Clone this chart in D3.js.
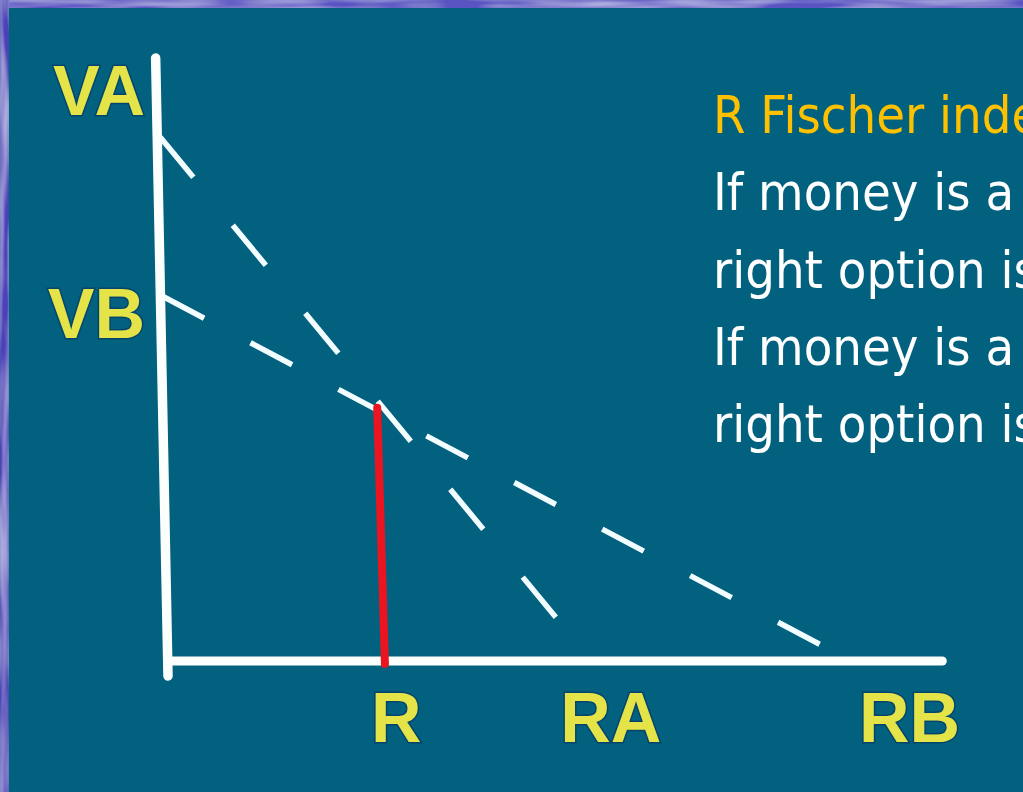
<!DOCTYPE html>
<html>
<head>
<meta charset="utf-8">
<script src="https://cdn.jsdelivr.net/npm/d3@7/dist/d3.min.js"></script>
<style>
  html, body { margin: 0; padding: 0; background: #01617f; overflow: hidden; }
  svg { display: block; }
</style>
</head>
<body>
<svg id="chart" width="1023" height="792"></svg>
<script>
// Hand-drawn frame: axis strokes in data units (x: 0..10, y: 0..10)
const xAxisStroke = [[0, 0], [10.03, 0]];
const yAxisStroke = [[-0.16, 10.05], [0, -0.25]];

// Two dashed valuation lines: project A (steep) and project B (shallow)
const lineA = [[-0.10, 8.73], [5.49, 0]];
const lineB = [[-0.07, 6.08], [8.85, 0]];

// Red marker dropped from the crossing to the rate axis
const fisherDrop = [[2.71, 4.22], [2.81, -0.05]];

// Axis tick labels
const xTickLabels = ["R", "RA", "RB"];
const xTickValues = [2.95, 5.73, 9.6];
const yTickLabels = ["VA", "VB"];
const yTickValues = [9.49, 5.77];

// Side notes
const noteLines = [
  "R Fischer index",
  "If money is a",
  "right option is",
  "If money is a",
  "right option is"
];

const svg = d3.select("#chart");
const W = 1023, H = 792;

const x = d3.scaleLinear().domain([0, 10]).range([168, 940]);
const y = d3.scaleLinear().domain([0, 10]).range([661, 61]);

// ---- slide background with mottled frame ----
const defs = svg.append("defs");
function mottle(id, freq, seed) {
  const f = defs.append("filter").attr("id", id)
    .attr("x", 0).attr("y", 0).attr("width", "100%").attr("height", "100%");
  f.append("feTurbulence").attr("type", "fractalNoise")
    .attr("baseFrequency", freq).attr("numOctaves", 2).attr("seed", seed).attr("result", "n");
  f.append("feColorMatrix").attr("in", "n").attr("type", "matrix")
    .attr("values", "0 0 0 0 0.6  0 0 0 0 0.6  0 0 0 0 0.86  1.3 0 0 0 -0.45")
    .attr("result", "c");
  f.append("feComposite").attr("in", "c").attr("in2", "SourceGraphic").attr("operator", "in").attr("result", "m");
  f.append("feMerge").call(m => {
    m.append("feMergeNode").attr("in", "SourceGraphic");
    m.append("feMergeNode").attr("in", "m");
  });
}
mottle("mottleH", "0.012 0.12", 7);
mottle("mottleV", "0.12 0.012", 3);

svg.append("rect").attr("width", W).attr("height", H).attr("fill", "#5750c0");
svg.append("rect").attr("width", W).attr("height", 8).attr("fill", "#5a52c2").attr("filter", "url(#mottleH)");
svg.append("rect").attr("width", 9).attr("height", H).attr("fill", "#4a42b8").attr("filter", "url(#mottleV)");
svg.append("rect").attr("x", 9).attr("y", 8).attr("width", W - 9).attr("height", H - 8).attr("fill", "#01617f");

const line = d3.line().x(d => x(d[0])).y(d => y(d[1]));

// ---- dashed lines ----
svg.append("path").datum(lineA).attr("d", line)
  .attr("fill", "none").attr("stroke", "#f2fdff").attr("stroke-width", 5.5)
  .attr("stroke-dasharray", "52 62");

svg.append("path").datum(lineB).attr("d", line)
  .attr("fill", "none").attr("stroke", "#f2fdff").attr("stroke-width", 5.5)
  .attr("stroke-dasharray", "47 52.5");

// ---- axes strokes ----
svg.append("path").datum(yAxisStroke).attr("d", line)
  .attr("fill", "none").attr("stroke", "#fbfffe").attr("stroke-width", 9.5)
  .attr("stroke-linecap", "round");
svg.append("path").datum(xAxisStroke).attr("d", line)
  .attr("fill", "none").attr("stroke", "#fbfffe").attr("stroke-width", 9)
  .attr("stroke-linecap", "round");

// ---- red drop line ----
svg.append("path").datum(fisherDrop).attr("d", line)
  .attr("fill", "none").attr("stroke", "#ea1520").attr("stroke-width", 8)
  .attr("stroke-linecap", "round");

// ---- tick labels via d3 axes ----
function styleLabels(g) {
  g.select(".domain").remove();
  g.selectAll(".tick line").remove();
  g.selectAll(".tick text")
    .attr("fill", "#e4e448")
    .attr("stroke", "rgba(10,40,90,0.5)")
    .attr("stroke-width", 3)
    .attr("paint-order", "stroke")
    .style("font-family", "'Liberation Sans', Arial, sans-serif")
    .style("font-size", "70px")
    .style("font-weight", "bold");
}

svg.append("g")
  .attr("transform", `translate(0,${y(0)})`)
  .call(d3.axisBottom(x).tickValues(xTickValues)
    .tickFormat((d, i) => xTickLabels[i]).tickSize(0).tickPadding(31))
  .call(styleLabels);

svg.append("g")
  .attr("transform", `translate(${x(0) - 11},0)`)
  .call(d3.axisLeft(y).tickValues(yTickValues)
    .tickFormat((d, i) => yTickLabels[i]).tickSize(0).tickPadding(12))
  .call(styleLabels);

// ---- notes on the right ----
const notes = svg.append("g")
  .style("font-family", "'DejaVu Sans Condensed', 'DejaVu Sans', sans-serif")
  .style("font-size", "52px")
  .style("font-stretch", "condensed");

notes.selectAll("text").data(noteLines).join("text")
  .attr("x", 713)
  .attr("y", (d, i) => 133 + i * 77.3)
  .attr("fill", (d, i) => i === 0 ? "#ffc000" : "#ffffff")
  .text(d => d);
</script>
</body>
</html>
